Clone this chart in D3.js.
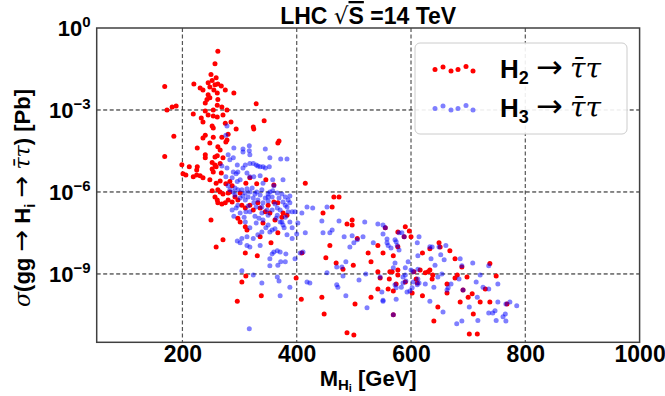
<!DOCTYPE html>
<html><head><meta charset="utf-8">
<script src="https://cdn.jsdelivr.net/npm/d3@7"></script>
<style>
body{margin:0;background:#fff}
svg{display:block}
text{font-family:"Liberation Sans",Arial,sans-serif;font-weight:bold;fill:#000}
.m{font-family:"DejaVu Sans",sans-serif;font-weight:normal}
.it{font-style:italic;font-weight:normal;font-family:"DejaVu Serif",serif}
</style>
</head><body>
<svg id="c" width="665" height="396"></svg>
<script>
// ---- data: [mass M_Hi in GeV, sigma(gg -> Hi -> tau tau) in pb] ----
const h2Points = [
[169,7.3e-3],[262,1.4e-1],[257,4.9e-2],[250,2.0e-2],[259,1.5e-2],[220,9.0e-3],[245,1.0e-2],[252,1.2e-2],[257,8.3e-3],[262,9.0e-3],
[268,7.6e-3],[248,7.0e-3],[231,6.4e-3],[236,5.4e-3],[275,5.4e-3],[290,4.2e-3],[245,3.6e-3],[261,4.2e-3],[255,5.4e-3],[243,2.4e-3],
[248,2.8e-3],[262,2.4e-3],[240,1.8e-3],[261,1.5e-3],[269,1.3e-3],[329,1.7e-3],[173,1.0e-3],[182,1.3e-3],[189,1.4e-3],[240,9.2e-4],
[254,1.0e-3],[278,1.0e-3],[219,7.1e-4],[245,6.6e-4],[254,6.0e-4],[261,5.5e-4],[233,5.1e-4],[236,3.6e-4],[271,6.6e-4],[285,3.6e-4],
[343,4.0e-4],[252,2.6e-4],[254,2.2e-4],[275,3.3e-4],[294,2.0e-4],[324,2.4e-4],[325,2.0e-4],[185,1.1e-4],[240,1.2e-4],[254,1.0e-4],
[269,1.0e-4],[236,9.5e-5],[280,1.3e-4],[278,8.0e-5],[276,6.8e-5],[369,7.3e-5],[367,6.2e-5],[226,4.1e-5],[262,4.5e-5],[266,3.4e-5],
[240,2.3e-5],[240,1.8e-5],[257,1.9e-5],[169,2.0e-5],[199,1.0e-5],[212,8.3e-6],[226,8.3e-6],[201,4.6e-6],[206,4.2e-6],[219,3.6e-6],
[231,3.9e-6],[236,3.3e-6],[252,1.2e-5],[257,9.7e-6],[266,1.1e-5],[261,2.1e-5],[271,1.8e-5],[248,2.8e-6],[259,2.1e-6],[266,2.5e-6],
[276,2.0e-6],[283,2.4e-6],[287,1.7e-6],[252,1.1e-6],[266,1.0e-6],[271,8.5e-7],[280,9.2e-7],[257,6.6e-7],[261,5.1e-7],[262,4.0e-7],
[269,3.6e-7],[275,4.0e-7],[280,5.1e-7],[287,4.3e-7],[292,6.6e-7],[297,5.1e-7],[304,3.3e-7],[310,2.6e-7],[318,3.3e-7],[311,2.1e-6],
[330,2.0e-6],[346,2.8e-6],[360,1.8e-6],[415,2.1e-6],[332,4.0e-7],[350,3.3e-7],[360,4.3e-7],[367,4.0e-7],[324,2.2e-7],[336,2.6e-7],
[345,1.9e-7],[353,1.7e-7],[376,1.7e-7],[374,1.2e-7],[383,1.4e-7],[250,9.5e-8],[297,1.1e-7],[301,8.0e-8],[313,4.1e-8],[336,2.3e-8],
[271,1.8e-8],[259,9.7e-9],[310,5.9e-9],[355,1.4e-8],[331,4.6e-9],[311,8.5e-10],[304,5.1e-10],[338,1.6e-10],[296,1.0e-10],[399,7.1e-10],
[408,1.2e-10],[446,1.7e-7],[462,2.8e-7],[465,6.6e-7],[474,6.6e-7],[458,1.1e-8],[451,3.9e-9],[444,1.4e-10],[448,3.4e-11],[488,7.0e-12],
[500,5.9e-12],[469,2.5e-9],[481,1.5e-9],[488,6.8e-8],[497,9.5e-8],[497,6.2e-8],[506,2.0e-8],[525,5.9e-9],[530,2.8e-9],[542,1.1e-8],
[546,7.1e-10],[563,1.2e-9],[562,6.6e-10],[577,3.4e-8],[502,8.0e-11],[530,1.4e-10],[542,2.8e-10],[560,2.8e-10],[569,3.2e-11],[555,4.9e-8],
[590,5.3e-8],[597,3.7e-8],[600,2.3e-8],[551,5.9e-9],[577,1.0e-8],[569,4.6e-9],[577,1.4e-9],[567,1.2e-9],[577,9.2e-10],[569,2.4e-10],
[605,1.2e-9],[616,1.4e-9],[625,1.1e-9],[630,1.2e-9],[633,1.4e-9],[638,9.2e-10],[637,6.6e-10],[609,6.6e-10],[611,4.7e-10],[602,2.0e-10],
[620,1.6e-10],[620,5.9e-9],[633,8.3e-9],[649,1.4e-8],[651,9.7e-9],[668,7.0e-9],[677,3.6e-9],[689,1.8e-9],[681,9.2e-10],[677,7.1e-10],
[663,4.3e-10],[663,2.0e-10],[698,7.8e-10],[691,2.6e-10],[686,9.5e-11],[707,1.9e-10],[700,1.4e-10],[721,9.5e-11],[730,2.8e-10],[738,2.4e-9],
[749,8.5e-10],[738,9.5e-11],[647,6.2e-11],[640,1.9e-11],[709,3.4e-11],[702,6.3e-12],[716,6.3e-12],[768,8.0e-11],[367,3.2e-8],[409,5.9e-9],
[499,2.1e-9],[542,1.2e-9],[574,4.3e-10],[590,5.1e-10],[588,2.3e-8],[248,6.2e-5],[259,8.3e-6],[252,7.0e-6],[254,5.4e-6],[268,5.0e-6],
[262,1.2e-6],[283,1.0e-6],[301,9.2e-7],[318,3.3e-6],[310,5.3e-8],[341,7.3e-8],[362,9.5e-8],[225,6.4e-6],[225,4.2e-6]
];
const h3Points = [
[278,2.6e-4],[276,1.2e-4],[290,4.1e-5],[306,3.7e-5],[317,4.9e-5],[306,2.9e-5],[317,3.2e-5],[345,3.7e-5],[353,1.8e-5],[372,1.6e-5],
[383,1.6e-5],[280,2.3e-5],[283,1.5e-5],[289,1.8e-5],[306,7.6e-6],[310,9.7e-6],[324,1.1e-5],[329,9.7e-6],[336,8.3e-6],[341,8.3e-6],
[352,8.3e-6],[297,5.4e-6],[313,5.0e-6],[318,3.6e-6],[325,3.6e-6],[336,3.9e-6],[287,3.3e-6],[296,2.4e-6],[301,2.8e-6],[376,2.8e-6],
[366,9.2e-7],[350,8.5e-7],[292,1.4e-6],[304,1.2e-6],[310,9.2e-7],[318,1.0e-6],[327,8.5e-7],[336,7.8e-7],[353,1.0e-6],[276,3.6e-6],
[294,4.6e-6],[269,9.0e-6],[296,9.7e-6],[318,1.1e-5],[332,9.0e-6],[345,7.6e-6],[283,1.2e-6],[292,7.8e-7],[301,6.0e-7],[310,5.1e-7],
[315,6.6e-7],[322,1.4e-6],[332,5.1e-7],[339,1.2e-6],[345,6.0e-7],[350,4.7e-7],[357,6.6e-7],[362,3.6e-7],[369,6.0e-7],[374,8.5e-7],
[380,6.6e-7],[385,5.1e-7],[388,7.1e-7],[380,3.3e-7],[357,2.2e-7],[350,1.4e-7],[339,1.7e-7],[327,1.3e-7],[318,1.9e-7],[308,1.2e-7],
[301,1.7e-7],[294,2.6e-7],[287,2.2e-7],[297,3.3e-7],[315,3.1e-7],[329,2.8e-7],[339,2.8e-7],[364,1.1e-7],[371,8.0e-8],[350,6.2e-8],
[329,7.3e-8],[318,4.9e-8],[310,8.0e-8],[339,3.4e-8],[357,4.1e-8],[378,4.9e-8],[388,8.0e-8],[397,1.9e-7],[388,4.0e-7],[383,2.8e-7],
[371,2.2e-7],[348,2.2e-7],[366,1.4e-7],[341,9.5e-8],[380,1.2e-7],[392,1.9e-7],[402,7.3e-8],[409,1.7e-7],[374,8.0e-8],[362,4.5e-8],
[353,3.4e-8],[376,6.2e-8],[296,1.6e-8],[304,2.0e-8],[313,2.3e-8],[324,2.0e-8],[332,2.7e-8],[336,1.1e-8],[318,9.7e-9],[313,1.1e-8],
[301,1.4e-8],[357,5.4e-9],[360,6.4e-9],[366,7.0e-9],[371,6.4e-9],[381,5.4e-9],[353,3.6e-9],[372,2.8e-9],[367,2.1e-9],[380,2.8e-9],
[353,2.0e-9],[392,2.0e-8],[400,2.9e-8],[415,3.2e-8],[446,3.2e-8],[458,3.2e-8],[411,6.4e-9],[406,5.9e-9],[397,3.6e-9],[304,1.3e-9],
[324,9.2e-10],[339,4.7e-10],[366,7.8e-10],[369,5.5e-10],[388,3.3e-10],[371,1.6e-10],[418,5.1e-10],[423,4.7e-10],[317,1.0e-11],[453,1.1e-9],
[470,4.0e-10],[470,1.8e-9],[479,1.8e-9],[486,2.8e-9],[481,8.5e-10],[483,2.3e-8],[497,2.5e-8],[500,1.4e-8],[506,1.8e-8],[516,2.3e-8],
[534,1.4e-8],[551,2.9e-8],[558,1.4e-8],[572,1.8e-8],[576,1.1e-8],[579,3.2e-8],[572,2.5e-9],[569,1.7e-9],[590,1.7e-9],[595,2.8e-9],
[521,1.0e-9],[546,7.8e-10],[509,6.0e-10],[549,2.2e-10],[572,4.0e-10],[583,3.3e-10],[586,4.7e-10],[593,2.2e-10],[486,1.6e-10],[523,5.8e-11],
[551,1.1e-10],[574,1.2e-10],[569,3.2e-11],[598,2.4e-10],[602,3.1e-10],[611,4.0e-10],[612,6.6e-10],[604,1.2e-9],[612,1.5e-9],[418,2.8e-7],
[428,2.6e-7],[444,8.7e-8],[453,2.8e-7],[462,4.1e-8],[474,8.7e-8],[493,9.7e-9],[519,8.0e-8],[542,6.8e-8],[555,4.9e-8],[558,1.9e-8],
[565,9.0e-9],[579,7.6e-9],[472,3.3e-10],[551,6.2e-8],[574,1.5e-8],[560,1.1e-8],[584,3.2e-8],[588,2.3e-8],[611,1.4e-8],[614,2.3e-8],
[633,1.0e-8],[637,9.7e-9],[649,9.7e-9],[661,1.1e-8],[612,4.6e-9],[635,3.6e-9],[642,2.1e-9],[652,5.0e-9],[658,3.3e-9],[686,3.6e-9],
[689,2.0e-9],[708,2.5e-9],[736,2.0e-9],[600,1.4e-9],[590,9.2e-10],[586,7.8e-10],[591,5.5e-10],[574,3.1e-10],[551,1.0e-10],[604,5.1e-10],
[625,4.3e-10],[640,3.3e-10],[647,7.8e-10],[654,1.0e-9],[665,3.1e-10],[670,4.3e-10],[684,6.6e-10],[691,2.6e-10],[714,5.1e-10],[721,9.2e-10],
[726,3.3e-10],[736,2.8e-10],[752,4.3e-10],[633,1.0e-10],[656,4.1e-11],[702,6.2e-11],[716,1.4e-10],[717,2.0e-11],[752,9.5e-11],[766,8.0e-11],
[773,9.5e-11],[785,6.8e-11],[736,3.7e-11],[747,4.5e-11],[743,3.7e-11],[765,3.4e-11],[761,2.7e-11],[749,2.0e-11],[766,1.9e-11],[680,1.5e-11],
[689,1.9e-11],[614,4.7e-10],[663,2.6e-10],[318,2.3e-5],[358,2.8e-6],[278,7.6e-6],[289,5.4e-6],
[280,1.7e-6],[289,1.0e-6],[297,1.2e-6],[306,7.1e-7],[313,1.3e-6],[324,6.0e-7],[330,1.0e-6],[341,4.0e-7],[350,6.6e-7],[358,1.1e-6],
[366,2.6e-7],[376,4.3e-7],[385,1.9e-7],[334,1.1e-7],[311,1.9e-7],[290,1.3e-7],[346,4.9e-8],[392,4.9e-8],[383,2.7e-8],[325,4.0e-7],
[360,1.7e-6],[341,2.1e-6]
];
const xDomain = [50, 1000];
const yDomain = [3.16e-12, 1];
const xTicks = [200, 400, 600, 800, 1000];
const yTicks = [1, 1e-3, 1e-6, 1e-9];
const seriesNames = ["2", "3"];

// ---- layout ----
const P = {left: 96.7, right: 639.6, top: 28, bottom: 342.3};
const x = d3.scaleLinear().domain(xDomain).range([P.left, P.right]);
const y = d3.scaleLog().domain(yDomain).range([P.bottom, P.top]);
const svg = d3.select("#c");

svg.append("clipPath").attr("id", "clip").append("rect")
  .attr("x", P.left).attr("y", P.top).attr("width", P.right - P.left).attr("height", P.bottom - P.top);

// grid
svg.append("g").selectAll("line").data(xTicks.filter(t => t < xDomain[1])).join("line")
  .attr("x1", d => x(d)).attr("x2", d => x(d)).attr("y1", P.top).attr("y2", P.bottom)
  .attr("stroke", "#555").attr("stroke-width", 1.2).attr("stroke-dasharray", "4,2.5");
svg.append("g").selectAll("line").data(yTicks.filter(t => t < yDomain[1])).join("line")
  .attr("x1", P.left).attr("x2", P.right).attr("y1", d => y(d)).attr("y2", d => y(d))
  .attr("stroke", "#111").attr("stroke-width", 1).attr("stroke-dasharray", "4,2.5");

// points
const pg = svg.append("g").attr("clip-path", "url(#clip)");
pg.append("g").selectAll("circle").data(h2Points).join("circle")
  .attr("cx", d => x(d[0])).attr("cy", d => y(d[1])).attr("r", 2.5).attr("fill", "#ff0000");
pg.append("g").selectAll("circle").data(h3Points).join("circle")
  .attr("cx", d => x(d[0])).attr("cy", d => y(d[1])).attr("r", 2.5).attr("fill", "#0000ff").attr("fill-opacity", 0.5);

// frame
svg.append("rect").attr("x", P.left).attr("y", P.top).attr("width", P.right - P.left).attr("height", P.bottom - P.top)
  .attr("fill", "none").attr("stroke", "#404040").attr("stroke-width", 1.5);

// x axis
const gx = svg.append("g").attr("transform", `translate(0,${P.bottom})`)
  .call(d3.axisBottom(x).tickValues(xTicks).tickSize(0).tickPadding(3).tickFormat(d3.format("d")));
gx.select(".domain").remove();
gx.selectAll("text").attr("font-size", 23).attr("font-family", null).attr("fill", "#000");

// y axis
const gy = svg.append("g").attr("transform", `translate(${P.left},0)`)
  .call(d3.axisLeft(y).tickValues(yTicks).tickSize(0).tickPadding(6).tickFormat(() => ""));
gy.select(".domain").remove();
gy.selectAll(".tick text").each(function(d) {
  const e = Math.round(Math.log10(d));
  const t = d3.select(this).attr("font-size", 22).attr("font-family", null).attr("dy", "0.36em");
  t.append("tspan").text("10");
  t.append("tspan").attr("dy", -9).attr("font-size", 15).text(e === 0 ? "0" : "\u2212" + Math.abs(e));
});

// title
const title = svg.append("text").attr("x", (P.left + P.right) / 2).attr("y", 24)
  .attr("text-anchor", "middle").attr("font-size", 23);
title.append("tspan").text("LHC ");
title.append("tspan").attr("class", "m").attr("font-weight", "normal").text("\u221A");
title.append("tspan").attr("text-decoration", "overline").text("S");
title.append("tspan").text(" =14 TeV");

// x label
const xl = svg.append("text").attr("x", (P.left + P.right) / 2).attr("y", 386)
  .attr("text-anchor", "middle").attr("font-size", 22);
xl.append("tspan").text("M");
xl.append("tspan").attr("font-size", 15).attr("dy", 4).text("H");
xl.append("tspan").attr("font-size", 11).attr("dy", 2).text("i");
xl.append("tspan").attr("dy", -6).text(" [GeV]");

// y label
const yl = svg.append("text").attr("transform", "translate(30,198) rotate(-90)")
  .attr("text-anchor", "middle").attr("font-size", 22);
yl.append("tspan").attr("class", "it").text("\u03C3");
yl.append("tspan").text("(gg ");
yl.append("tspan").attr("class", "m").attr("font-size", 26).text("\u2192");
yl.append("tspan").text(" H");
yl.append("tspan").attr("font-size", 15).attr("dy", 5).text("i");
yl.append("tspan").attr("dy", -5).text(" ");
yl.append("tspan").attr("class", "m").attr("font-size", 26).text("\u2192");
yl.append("tspan").text(" ");
yl.append("tspan").attr("class", "it").text("\u03C4\u0304\u03C4");
yl.append("tspan").text(") [Pb]");

// legend
const lg = svg.append("g");
lg.append("rect").attr("x", 415).attr("y", 43).attr("width", 212).attr("height", 91).attr("rx", 5)
  .attr("fill", "#fff").attr("fill-opacity", 0.9).attr("stroke", "#cccccc").attr("stroke-width", 1);
const legendDotX = [435, 443, 451, 458, 466, 473];
const legendDotDy = [1, -1.5, 2.5, 1, -2, 2.5];
const legendRows = [{name: seriesNames[0], color: "#ff0000", op: 1, cy: 68.5},
                    {name: seriesNames[1], color: "#0000ff", op: 0.5, cy: 107.5}];
legendRows.forEach(r => {
  lg.append("g").selectAll("circle").data(legendDotX).join("circle")
    .attr("cx", d => d).attr("cy", (d, i) => r.cy + legendDotDy[i]).attr("r", 2.5)
    .attr("fill", r.color).attr("fill-opacity", r.op);
  const t = lg.append("text").attr("x", 500).attr("y", r.cy + 9).attr("font-size", 26);
  t.append("tspan").text("H");
  t.append("tspan").attr("font-size", 18).attr("dy", 6).text(r.name);
  t.append("tspan").attr("dy", -6).text(" ");
  t.append("tspan").attr("class", "m").attr("font-size", 32).text("\u2192");
  t.append("tspan").text(" ");
  t.append("tspan").attr("class", "it").attr("font-size", 28).text("\u03C4\u0304\u03C4");
});
</script>
</body></html>
